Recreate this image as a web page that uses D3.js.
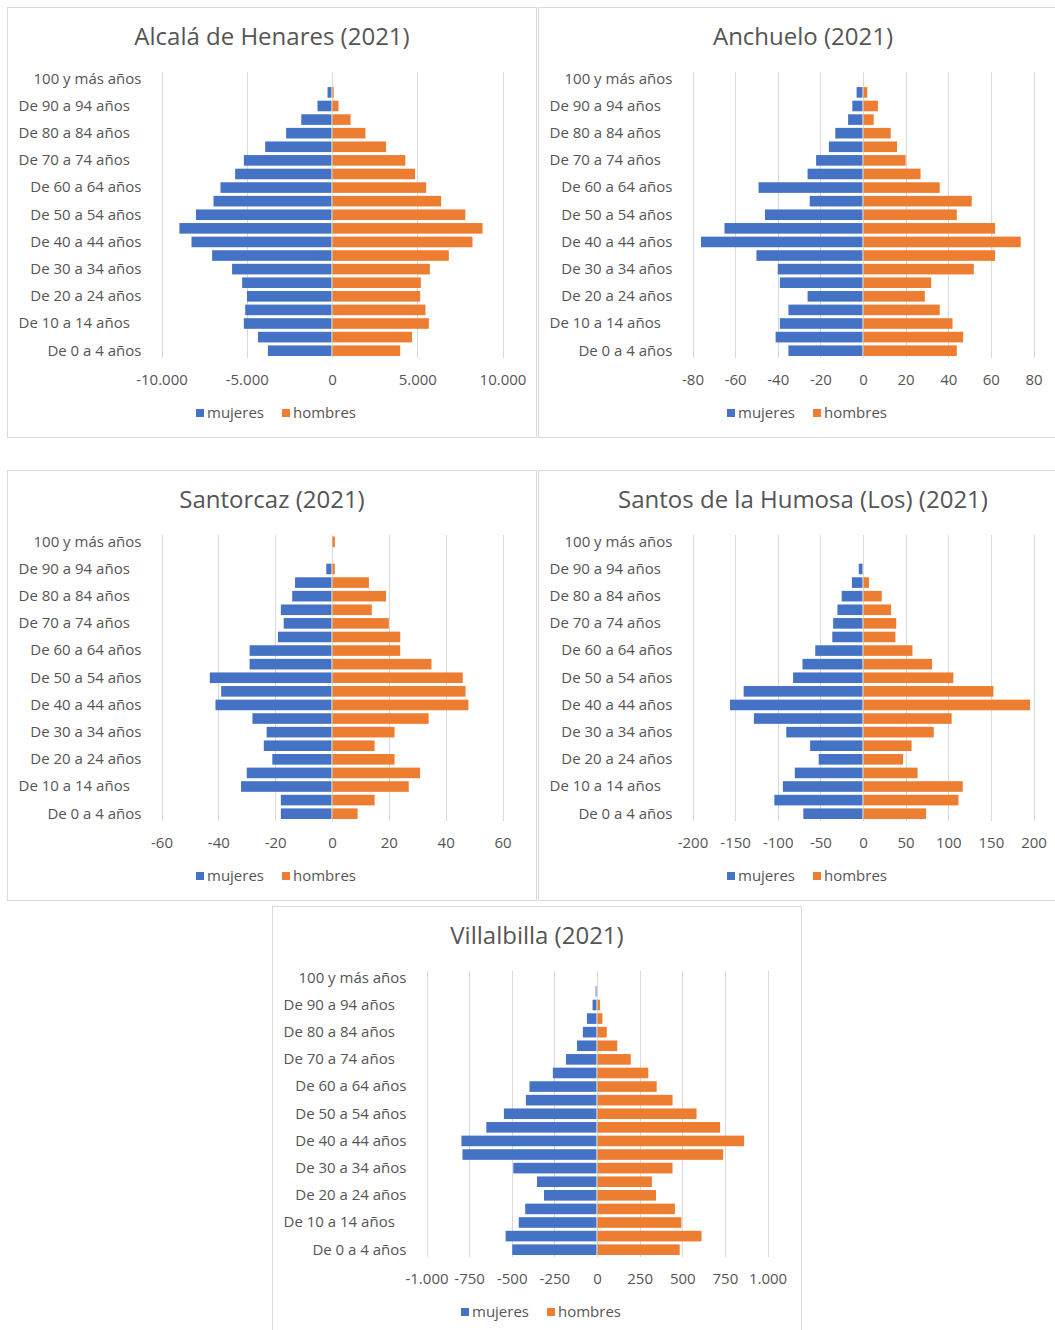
<!DOCTYPE html>
<html>
<head>
<meta charset="utf-8">
<script src="https://cdn.jsdelivr.net/npm/d3@7"></script>
<style>
  html, body { margin: 0; padding: 0; background: #fff; }
  svg { display: block; font-family: "Open Sans", sans-serif; }
</style>
</head>
<body>
<svg id="chart" width="1055" height="1330"></svg>
<script>
// Age groups, youngest first (bottom of each pyramid)
const ageGroups = [
  "De 0 a 4 años", "De 5 a 9 años", "De 10 a 14 años\u00A0\u00A0\u00A0", "De 15 a 19 años",
  "De 20 a 24 años", "De 25 a 29 años", "De 30 a 34 años", "De 35 a 39 años",
  "De 40 a 44 años", "De 45 a 49 años", "De 50 a 54 años", "De 55 a 59 años",
  "De 60 a 64 años", "De 65 a 69 años", "De 70 a 74 años\u00A0\u00A0\u00A0", "De 75 a 79 años",
  "De 80 a 84 años\u00A0\u00A0\u00A0", "De 85 a 89 años", "De 90 a 94 años\u00A0\u00A0\u00A0", "De 95 a 99 años",
  "100 y más años"
];

const titles = [
  "Alcalá de Henares (2021)",
  "Anchuelo (2021)",
  "Santorcaz (2021)",
  "Santos de la Humosa (Los) (2021)",
  "Villalbilla (2021)"
];

const seriesNames = ["mujeres", "hombres"];

// Population by age group, 2021
const alcalaMujeres = [3760, 4340, 5170, 5090, 4990, 5270, 5860, 7030, 8240, 8950, 7980, 6950, 6540, 5680, 5170, 3920, 2690, 1800, 850, 260, 15];
const alcalaHombres = [4000, 4690, 5680, 5480, 5170, 5210, 5740, 6850, 8240, 8830, 7820, 6400, 5520, 4870, 4300, 3170, 1960, 1090, 380, 100, 4];

const anchueloMujeres = [35, 41, 39, 35, 26, 39, 40, 50, 76, 65, 46, 25, 49, 26, 22, 16, 13, 7, 5, 3, 0];
const anchueloHombres = [44, 47, 42, 36, 29, 32, 52, 62, 74, 62, 44, 51, 36, 27, 20, 16, 13, 5, 7, 2, 0];

const santorcazMujeres = [18, 18, 32, 30, 21, 24, 23, 28, 41, 39, 43, 29, 29, 19, 17, 18, 14, 13, 2, 0, 0];
const santorcazHombres = [9, 15, 27, 31, 22, 15, 22, 34, 48, 47, 46, 35, 24, 24, 20, 14, 19, 13, 1, 0, 1];

const santosMujeres = [70, 104, 94, 80, 52, 62, 90, 128, 156, 140, 82, 71, 56, 36, 35, 30, 25, 13, 5, 0, 0];
const santosHombres = [74, 112, 117, 64, 47, 57, 83, 104, 196, 153, 106, 81, 58, 38, 39, 33, 22, 7, 0, 0, 0];

const villalbillaMujeres = [497, 536, 459, 421, 311, 352, 491, 789, 795, 649, 546, 417, 396, 259, 182, 117, 83, 59, 26, 8, 0];
const villalbillaHombres = [485, 613, 495, 457, 346, 322, 443, 740, 863, 722, 584, 443, 350, 301, 198, 119, 57, 32, 18, 1, 0];

// Axis limits and tick steps for each pyramid
const axisMax  = [10000, 80, 60, 200, 1000];
const axisStep = [5000, 20, 20, 50, 250];

const mujeresByPanel = [alcalaMujeres, anchueloMujeres, santorcazMujeres, santosMujeres, villalbillaMujeres];
const hombresByPanel = [alcalaHombres, anchueloHombres, santorcazHombres, santosHombres, villalbillaHombres];

// ---- layout & style ----
const colors = { mujeres: "#4472C4", hombres: "#ED7D31" };
const textColor = "#555555";
const gridColor = "#d9d9d9";
const panelOrigins = [[7.5, 7.5], [538.5, 7.5], [7.5, 470.5], [538.5, 470.5], [272.5, 906.5]];
const PW = 529, PH = 430;
const plot = { left: 154, right: 495, top: 64.5, bottom: 350 };

const esLocale = d3.formatLocale({
  decimal: ",", thousands: ".", grouping: [3], currency: ["", " €"], minus: "-"
});
const fmt = esLocale.format(",d");

const svg = d3.select("#chart");

function drawPanel(i) {
  const [ox, oy] = panelOrigins[i];
  const g = svg.append("g").attr("transform", `translate(${ox},${oy})`);

  g.append("rect")
    .attr("width", PW).attr("height", PH)
    .attr("fill", "#fff").attr("stroke", gridColor).attr("stroke-width", 1);

  g.append("text")
    .attr("x", PW / 2).attr("y", 37.8)
    .attr("text-anchor", "middle")
    .attr("fill", textColor)
    .attr("font-size", 24)
    .text(titles[i]);

  const max = axisMax[i], step = axisStep[i];
  const x = d3.scaleLinear().domain([-max, max]).range([plot.left, plot.right]);
  const y = d3.scaleBand()
    .domain(ageGroups.slice().reverse())
    .range([plot.top, plot.bottom])
    .paddingInner(0.22).paddingOuter(0.11);

  const ticks = d3.range(-max, max + step / 2, step);

  // vertical gridlines
  g.append("g")
    .attr("transform", `translate(0,${plot.bottom})`)
    .call(d3.axisBottom(x).tickValues(ticks).tickSize(-(plot.bottom - plot.top)).tickFormat(""))
    .call(s => s.select(".domain").remove())
    .call(s => s.selectAll("line").attr("stroke", gridColor).attr("shape-rendering", "crispEdges"));

  // value axis labels
  g.append("g")
    .attr("transform", `translate(0,${plot.bottom})`)
    .call(d3.axisBottom(x).tickValues(ticks).tickSize(0).tickPadding(17).tickFormat(fmt))
    .call(s => s.select(".domain").remove())
    .call(s => s.selectAll("text")
      .attr("fill", textColor).attr("font-size", 15).attr("font-family", "Open Sans"));

  // category axis labels (every other age group)
  g.append("g")
    .attr("transform", `translate(${plot.left},0)`)
    .call(d3.axisLeft(y).tickValues(ageGroups.filter((d, k) => k % 2 === 0)).tickSize(0).tickPadding(20))
    .call(s => s.select(".domain").remove())
    .call(s => s.selectAll("text")
      .attr("fill", textColor).attr("font-size", 15).attr("font-family", "Open Sans"));

  const x0 = x(0);
  const rows = ageGroups.map((a, k) => ({ a, m: mujeresByPanel[i][k], h: hombresByPanel[i][k] }));

  g.append("g").selectAll("rect")
    .data(rows.filter(d => d.m > 0))
    .join("rect")
    .attr("x", d => x(-d.m))
    .attr("width", d => Math.max(0, x0 - 0.5 - x(-d.m)))
    .attr("y", d => y(d.a))
    .attr("height", y.bandwidth())
    .attr("fill", colors.mujeres);

  g.append("g").selectAll("rect")
    .data(rows.filter(d => d.h > 0))
    .join("rect")
    .attr("x", x0 + 0.5)
    .attr("width", d => Math.max(0, x(d.h) - x0 - 0.5))
    .attr("y", d => y(d.a))
    .attr("height", y.bandwidth())
    .attr("fill", colors.hombres);

  // legend
  const leg = g.append("g");
  let cx = 0;
  seriesNames.forEach((name, k) => {
    const item = leg.append("g").attr("transform", `translate(${cx},0)`);
    item.append("rect").attr("x", 0).attr("y", 401.5).attr("width", 8).attr("height", 8)
      .attr("fill", colors[name]);
    const t = item.append("text").attr("x", 11).attr("y", 410.2)
      .attr("fill", textColor).attr("font-size", 15).text(name);
    const w = t.node().getComputedTextLength();
    cx += 11 + w + (k < seriesNames.length - 1 ? 18 : 0);
  });
  leg.attr("transform", `translate(${PW / 2 - cx / 2 + 4},0)`);
}

titles.forEach((t, i) => drawPanel(i));
</script>
</body>
</html>
